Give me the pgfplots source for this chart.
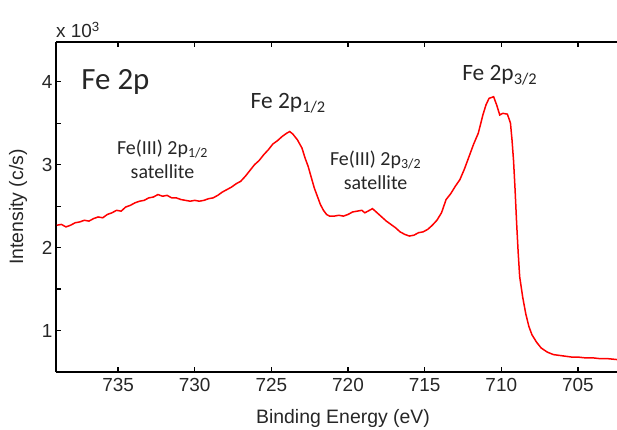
\documentclass[border=0pt]{standalone}
\usepackage{pgfplots}
\pgfplotsset{compat=1.18}
\usepackage{fontspec}
\setmainfont{Liberation Sans}
\newfontfamily\calibri{Carlito}
\begin{document}
\begin{tikzpicture}[x=1bp,y=1bp]
\useasboundingbox (0,0) rectangle (617,429);
\begin{axis}[
  at={(56bp,57bp)}, anchor=south west,
  scale only axis, width=561bp, height=330bp,
  x dir=reverse,
  xmin=702.45, xmax=739.05,
  ymin=0.5, ymax=4.48,
  axis x line*=box, axis y line*=left,
  xtick={705,710,...,735},
  ytick={1,2,3,4},
  minor ytick={1.5,2.5,3.5},
  xtick pos=both,
  tick align=inside,
  major tick length=5bp, minor tick length=5bp,
  axis line style={line width=1.4bp},
  every tick/.style={line width=1.2bp, black},
  /pgf/number format/assume math mode=true,
  /pgf/number format/1000 sep={},
  ticklabel style={font=\fontsize{19}{22}\selectfont, text=black!85},
  xticklabel style={yshift=-3bp},
  xlabel={Binding Energy (eV)},
  ylabel={Intensity (c/s)},
  label style={font=\fontsize{19.5}{22}\selectfont, text=black!85},
  xlabel style={at={(axis description cs:0.5116,-0.1394)}, anchor=center},
  ylabel style={at={(axis description cs:-0.0677,0.5)}, anchor=center},
  clip=false,
]
\addplot[red, line width=1.5bp] coordinates {
(739.0,2.27) (738.7,2.28) (738.4,2.25) (738.1,2.27) (737.8,2.30) (737.5,2.31)
(737.2,2.33) (736.9,2.32) (736.6,2.35) (736.3,2.37) (736.0,2.36) (735.7,2.40)
(735.4,2.42) (735.1,2.45) (734.8,2.44) (734.5,2.49) (734.2,2.51) (733.9,2.54)
(733.6,2.56) (733.3,2.57) (733.0,2.60) (732.7,2.61) (732.4,2.64) (732.1,2.62)
(731.8,2.63) (731.5,2.60) (731.2,2.60) (730.9,2.58) (730.6,2.57) (730.3,2.56)
(730.0,2.57) (729.7,2.56) (729.4,2.57) (729.1,2.59) (728.8,2.60) (728.5,2.63)
(728.2,2.67) (727.9,2.70) (727.6,2.73) (727.3,2.77) (727.0,2.80) (726.7,2.86)
(726.4,2.93) (726.1,3.00) (725.8,3.05) (725.5,3.12) (725.2,3.18) (724.9,3.25)
(724.6,3.29) (724.3,3.34) (724.0,3.38) (723.8,3.40) (723.6,3.37) (723.3,3.30)
(723.0,3.20) (722.8,3.08) (722.6,2.98) (722.4,2.85) (722.2,2.72) (722.0,2.62)
(721.8,2.52) (721.6,2.45) (721.4,2.40) (721.2,2.38) (720.9,2.38) (720.6,2.39)
(720.3,2.38) (720.0,2.40) (719.7,2.43) (719.4,2.44) (719.1,2.45) (718.9,2.42)
(718.6,2.45) (718.4,2.47) (718.1,2.42) (717.8,2.37) (717.5,2.32) (717.2,2.28)
(716.9,2.24) (716.6,2.19) (716.3,2.16) (716.0,2.14) (715.7,2.15) (715.4,2.18)
(715.1,2.19) (714.8,2.22) (714.5,2.27) (714.2,2.33) (713.9,2.42) (713.6,2.58)
(713.3,2.65) (713.0,2.74) (712.7,2.82) (712.4,2.95) (712.1,3.10) (711.8,3.25)
(711.5,3.38) (711.2,3.60) (711.0,3.72) (710.8,3.80) (710.5,3.82) (710.3,3.72)
(710.1,3.60) (709.9,3.62) (709.6,3.61) (709.4,3.50) (709.3,3.30) (709.2,3.05)
(709.1,2.70) (709.0,2.30) (708.9,1.95) (708.8,1.65) (708.6,1.40) (708.4,1.20)
(708.2,1.05) (708.0,0.95) (707.7,0.86) (707.4,0.79) (707.0,0.74) (706.6,0.71)
(706.2,0.70) (705.8,0.69) (705.4,0.68) (705.0,0.68) (704.5,0.67) (704.0,0.67)
(703.5,0.66) (703.0,0.66) (702.45,0.65)
};
\node[anchor=south west, inner sep=0pt, font=\fontsize{19}{22}\selectfont, text=black!85] at (rel axis cs:0,1) [yshift=4bp] {x 10\textsuperscript{3}};
\node[anchor=west, inner sep=0pt, font=\calibri\fontsize{31}{36}\selectfont, text=black!85] at (axis cs:737.4,4.0) {Fe 2p};
\node[inner sep=0pt, font=\calibri\fontsize{23.5}{28}\selectfont, text=black!85] at (axis cs:723.9,3.74) {Fe 2p\textsubscript{1/2}};
\node[inner sep=0pt, font=\calibri\fontsize{23.5}{28}\selectfont, text=black!85] at (axis cs:710.1,4.08) {Fe 2p\textsubscript{3/2}};
\node[inner sep=0pt, align=center, font=\calibri\fontsize{20}{24}\selectfont, text=black!85] at (axis cs:732.1,3.07) {Fe(III) 2p\textsubscript{1/2}\\satellite};
\node[inner sep=0pt, align=center, font=\calibri\fontsize{20}{24}\selectfont, text=black!85] at (axis cs:718.2,2.93) {Fe(III) 2p\textsubscript{3/2}\\satellite};
\end{axis}
\end{tikzpicture}
\end{document}
